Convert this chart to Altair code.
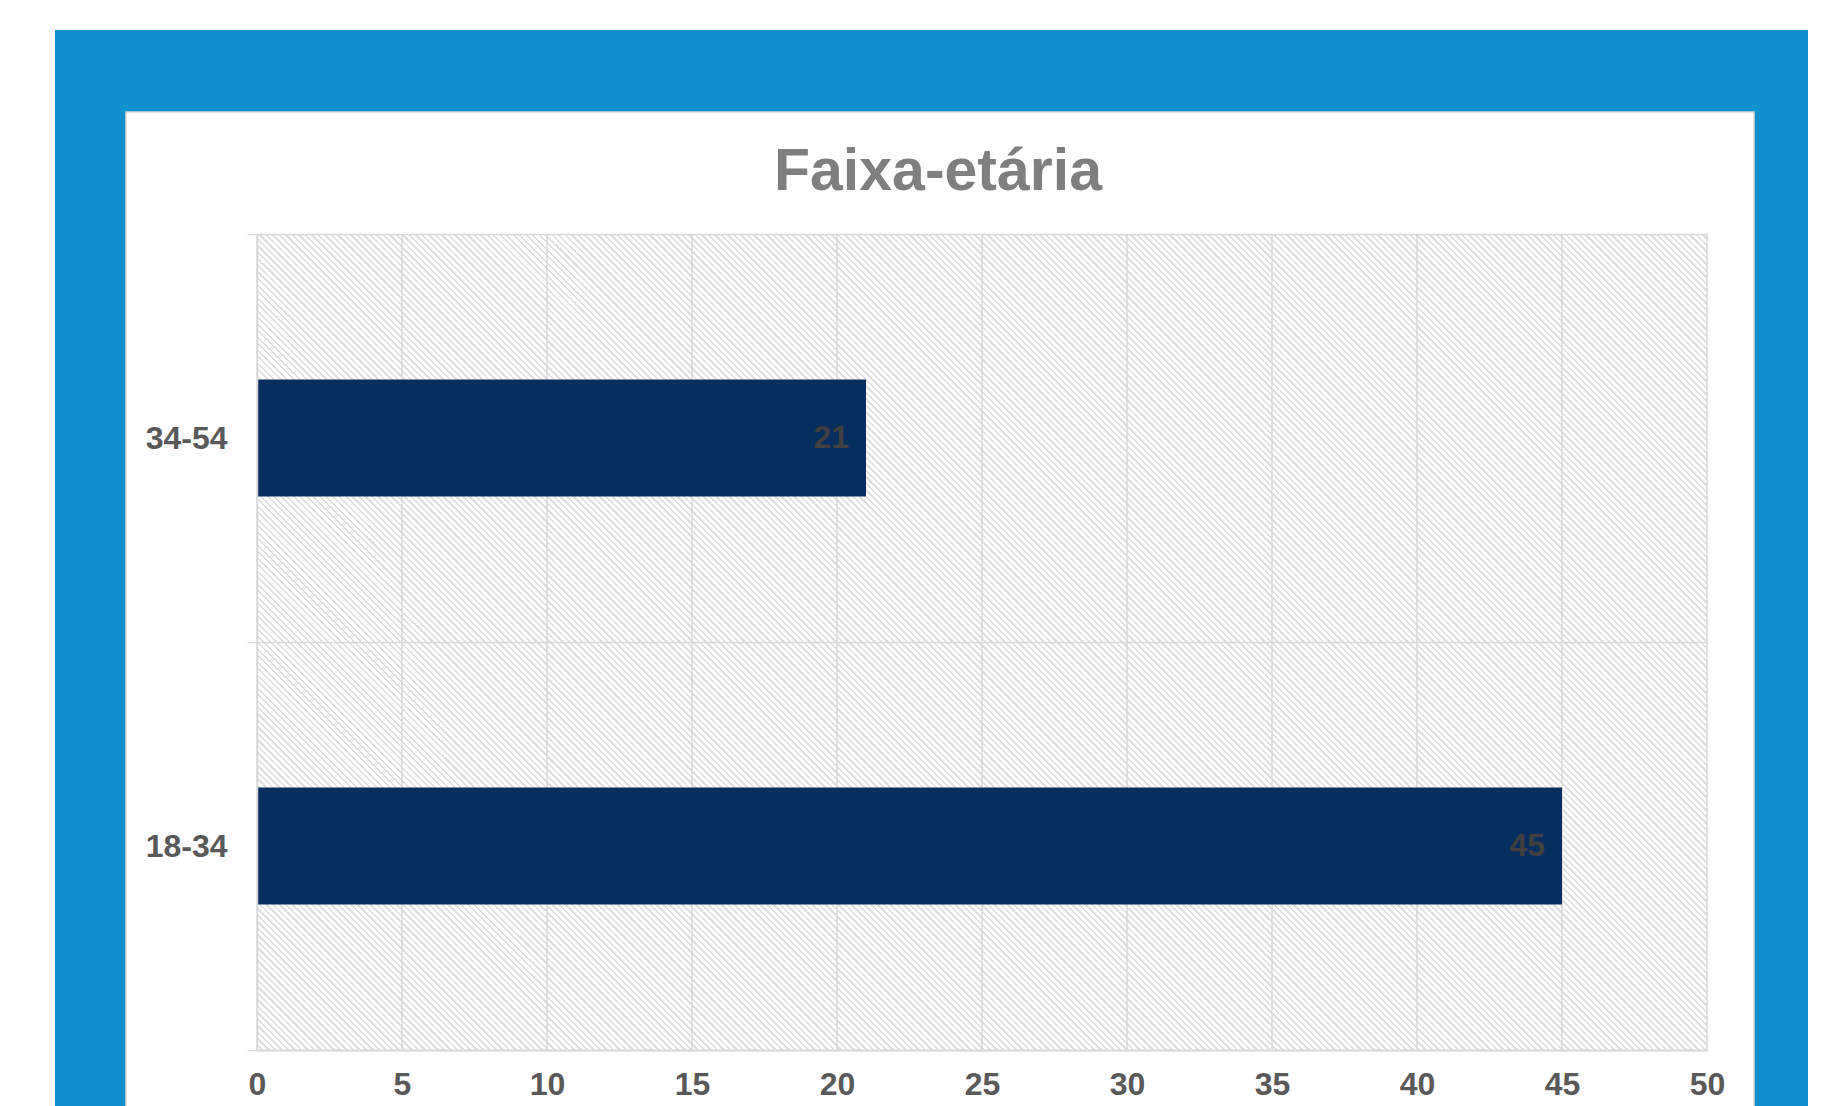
import altair as alt
import pandas as pd

# ---- data ----
categorias = ["34-54", "18-34"]
valores = [21, 45]
eixo_x = [0, 5, 10, 15, 20, 25, 30, 35, 40, 45, 50]
titulo = ["Faixa-etária"]

# ---- layout / style ----
W, H = 1450, 816
FONT = "Liberation Sans"
BLUE = "#1190CF"
NAVY = "#062E5F"
GRID = "#D9D9D9"
LABEL = "#595959"

df = pd.DataFrame({"categoria": categorias, "valor": valores})
df_grid = pd.DataFrame({"v": eixo_x})
df_one = pd.DataFrame({"k": [0]})
df_title = pd.DataFrame({"t": titulo})

# diagonal hatch built from a linear gradient (bbox units)
r = H / W
k = (1 + r) / (1 + r * r)
period = 6.5
span = W + H
pt = period / span
stops = []
i = 0
while i * pt < 1:
    s = i * pt
    for off, col in [(s, "#FFFFFF"), (s + 0.62 * pt, "#FFFFFF"),
                     (s + 0.62 * pt, "#DEDEDE"), (s + pt, "#DEDEDE")]:
        stops.append({"offset": min(round(off, 6), 1.0), "color": col})
    i += 1
hatch = {"gradient": "linear", "x1": 0, "y1": 1, "x2": round(k, 5),
         "y2": round(1 - k * r, 5), "stops": stops}

x_scale = alt.Scale(domain=[0, 50], nice=False, zero=True)
x_axis = alt.Axis(values=eixo_x, title=None, grid=False, ticks=False, tickSize=0,
                  domain=True, domainColor=GRID, domainWidth=2,
                  labelFont=FONT, labelFontSize=32, labelFontWeight="bold",
                  labelColor=LABEL, labelPadding=19, labelFlush=False, zindex=1)
y_enc = alt.Y("categoria:N", sort=categorias,
              scale=alt.Scale(paddingInner=0, paddingOuter=0),
              axis=alt.Axis(title=None, tickBand="extent", grid=True, gridColor=GRID,
                            gridWidth=1.5, ticks=True, tickSize=10, tickColor=GRID,
                            tickWidth=1.5, domain=True, domainColor=GRID, domainWidth=1.5,
                            labelFont=FONT, labelFontSize=32, labelFontWeight="bold",
                            labelColor=LABEL, labelPadding=20, zindex=1))

frame_blue = alt.Chart(df_one).mark_rect(color=BLUE).encode(
    x=alt.value(-202), x2=alt.value(1551), y=alt.value(-204), y2=alt.value(872))
frame_white = alt.Chart(df_one).mark_rect(fill="#FFFFFF", stroke=GRID, strokeWidth=1.5).encode(
    x=alt.value(-131), x2=alt.value(1497), y=alt.value(-122), y2=alt.value(900))
plot_bg = alt.Chart(df_one).mark_rect(fill=hatch).encode(
    x=alt.value(0), x2=alt.value(W), y=alt.value(0), y2=alt.value(H))

grid = alt.Chart(df_grid).mark_rule(color=GRID, strokeWidth=1.5).encode(
    x=alt.X("v:Q", scale=x_scale, axis=x_axis),
    y=alt.value(0), y2=alt.value(H))

bars = alt.Chart(df).mark_bar(color=NAVY, height={"band": 0.287}).encode(
    x=alt.X("valor:Q", scale=x_scale, axis=x_axis),
    y=y_enc)

labels = alt.Chart(df).mark_text(align="right", baseline="middle", dx=-17,
                                 font=FONT, fontSize=32, fontWeight="bold",
                                 color="#404040").encode(
    x=alt.X("valor:Q", scale=x_scale, axis=x_axis),
    y=y_enc,
    text=alt.Text("valor:Q"))

title = alt.Chart(df_title).mark_text(align="center", baseline="alphabetic",
                                      font=FONT, fontSize=59, fontWeight="bold",
                                      color="#7F7F7F").encode(
    x=alt.value(681), y=alt.value(-44), text="t:N")

chart = alt.layer(frame_blue, frame_white, plot_bg, grid, bars, labels, title).properties(
    width=W, height=H,
    autosize=alt.AutoSizeParams(type="none"),
    padding={"left": 249, "top": 226, "right": 112, "bottom": 56},
    background="#FFFFFF",
).configure_view(strokeWidth=0)

chart.save("out.html", embed_options={"renderer": "svg", "actions": False})
